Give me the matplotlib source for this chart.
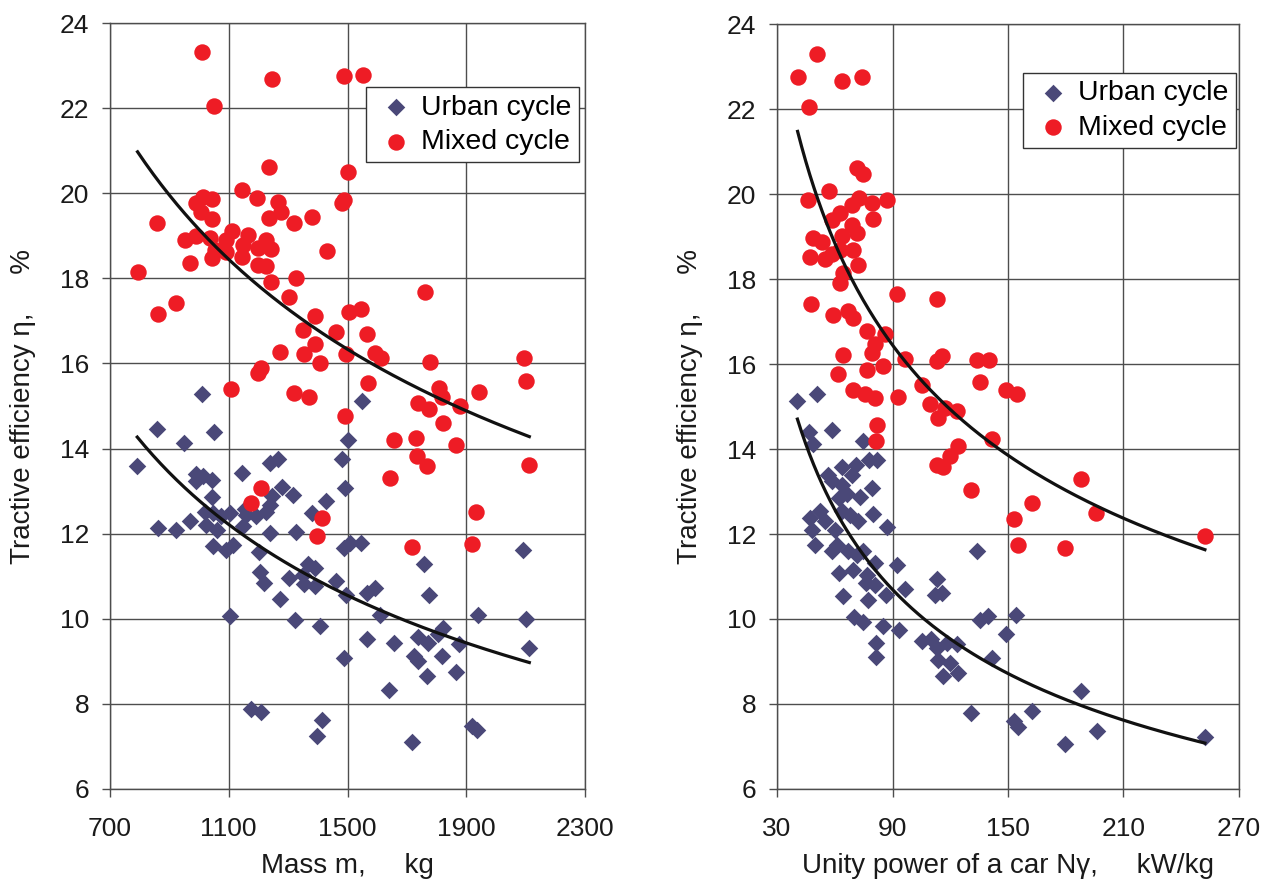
import numpy as np
import matplotlib
matplotlib.use("Agg")
import matplotlib.pyplot as plt

plt.rcParams['font.family'] = ['Liberation Sans', 'DejaVu Sans']

# ---------------- Left panel: mass vs tractive efficiency ----------------
mass_urban = [1010, 1549, 857, 1051, 951, 1503, 792, 1481, 1238, 1266, 991, 1014, 1045, 989,
              1145, 1493, 1279, 1318, 1428, 1042, 1247, 1238, 1381, 1227, 1103, 1075, 1047,
              1159, 1193, 971, 1025, 862, 924, 1059, 1148, 1238, 1325, 1047, 1092, 1115, 1202,
              1489, 1507, 1546, 1757, 2092, 1367, 1392, 1204, 1303, 1218, 1350, 1355, 1392,
              1462, 1495, 1565, 1591, 1774, 1274, 1103, 1608, 1940, 2101, 1322, 1406, 1736,
              1770, 1820, 1803, 1876, 1566, 1656, 2112, 1487, 1725, 1736, 1818, 1767, 1865,
              1641, 1176, 1210, 1415, 1398, 1716, 1919, 1935, 1154, 1019]
eff_urban_m = [15.29, 15.11, 14.47, 14.38, 14.13, 14.19, 13.60, 13.75, 13.66, 13.75, 13.41, 13.35,
               13.27, 13.23, 13.42, 13.07, 13.09, 12.91, 12.77, 12.86, 12.88, 12.68, 12.48, 12.52,
               12.48, 12.41, 12.48, 12.44, 12.41, 12.29, 12.21, 12.13, 12.09, 12.09, 12.17, 12.01,
               12.03, 11.72, 11.62, 11.74, 11.56, 11.66, 11.79, 11.78, 11.29, 11.61, 11.29, 11.19,
               11.11, 10.96, 10.84, 11.04, 10.82, 10.78, 10.88, 10.57, 10.60, 10.72, 10.57, 10.46,
               10.07, 10.10, 10.10, 9.99, 9.96, 9.84, 9.57, 9.43, 9.78, 9.65, 9.41, 9.52, 9.43,
               9.31, 9.08, 9.12, 9.00, 9.13, 8.66, 8.74, 8.33, 7.88, 7.80, 7.61, 7.25, 7.10, 7.47,
               7.39, 12.58, 12.52]

mass_mixed = [1011, 1245, 1488, 1552, 1052, 1236, 1503, 1489, 1481, 1146, 1195, 1266, 1277, 1234,
              1014, 1045, 989, 1008, 1045, 1320, 1381, 857, 952, 991, 1038, 1112, 1164, 1226,
              1092, 1054, 1092, 1148, 1199, 1243, 1042, 1143, 1430, 971, 1199, 1227, 793, 1325,
              1241, 1303, 924, 862, 1760, 1389, 1504, 1546, 1350, 1462, 1566, 1389, 1355, 1406,
              1495, 1274, 1591, 1613, 1776, 2093, 2101, 1210, 1199, 1106, 1320, 1370, 1568, 1809,
              1818, 1941, 1736, 1773, 1879, 1490, 1820, 1658, 1729, 1865, 1733, 1768, 1643, 2112,
              1210, 1176, 1415, 1398, 1932, 1717, 1919]
eff_mixed_m = [23.31, 22.68, 22.76, 22.79, 22.05, 20.62, 20.49, 19.84, 19.78, 20.08, 19.90, 19.80,
               19.57, 19.43, 19.92, 19.86, 19.78, 19.57, 19.39, 19.31, 19.45, 19.31, 18.90, 19.00,
               18.94, 19.12, 19.02, 18.90, 18.90, 18.67, 18.63, 18.79, 18.71, 18.68, 18.47, 18.51,
               18.65, 18.37, 18.31, 18.28, 18.16, 18.02, 17.92, 17.57, 17.43, 17.16, 17.67, 17.12,
               17.20, 17.27, 16.79, 16.75, 16.69, 16.46, 16.22, 16.00, 16.22, 16.28, 16.25, 16.12,
               16.04, 16.12, 15.59, 15.89, 15.77, 15.40, 15.30, 15.22, 15.53, 15.42, 15.22, 15.34,
               15.06, 14.92, 14.99, 14.77, 14.59, 14.19, 14.25, 14.09, 13.83, 13.60, 13.31, 13.62,
               13.07, 12.73, 12.37, 11.95, 12.50, 11.68, 11.75]

# ---------------- Right panel: unity power vs tractive efficiency ----------------
power_urban = [40.6, 50.6, 46.8, 58.4, 48.5, 74.5, 78.0, 81.8, 71.0, 63.6, 56.7, 68.8, 58.4, 79.2,
               63.6, 66.2, 73.1, 62.0, 52.5, 47.3, 48.1, 55.0, 60.2, 63.6, 67.9, 72.3, 80.0, 86.9,
               49.7, 58.4, 61.0, 67.1, 71.4, 74.8, 80.9, 92.2, 69.3, 62.4, 76.6, 76.2, 80.9, 96.5,
               86.6, 64.5, 77.4, 112.9, 112.1, 115.5, 133.7, 70.0, 74.8, 85.2, 93.5, 81.4, 81.4,
               105.2, 109.9, 113.0, 118.1, 123.3, 113.8, 119.9, 124.2, 116.4, 135.5, 139.8, 154.2,
               149.0, 141.5, 187.8, 130.6, 162.3, 153.3, 155.0, 196.1, 179.6, 252.3]
eff_urban_p = [15.12, 15.29, 14.40, 14.45, 14.12, 14.20, 13.75, 13.75, 13.63, 13.57, 13.40, 13.40,
               13.24, 13.08, 13.16, 12.93, 12.86, 12.85, 12.53, 12.38, 12.10, 12.30, 12.10, 12.53,
               12.45, 12.30, 12.47, 12.16, 11.75, 11.61, 11.75, 11.59, 11.51, 11.59, 11.32, 11.26,
               11.16, 11.08, 11.04, 10.85, 10.81, 10.71, 10.56, 10.53, 10.45, 10.95, 10.56, 10.61,
               11.61, 10.04, 9.93, 9.83, 9.75, 9.44, 9.10, 9.49, 9.54, 9.32, 9.44, 9.40, 9.04,
               8.96, 8.73, 8.65, 9.98, 10.06, 10.09, 9.65, 9.08, 8.30, 7.79, 7.84, 7.59, 7.45,
               7.37, 7.06, 7.22]

power_mixed = [50.6, 40.7, 63.6, 74.0, 46.8, 71.4, 74.8, 57.0, 46.3, 72.8, 79.2, 87.0, 68.8, 62.7,
               58.4, 79.7, 68.8, 71.4, 63.6, 48.9, 53.2, 69.7, 62.7, 47.1, 54.9, 58.4, 72.3, 64.5,
               62.7, 92.2, 112.9, 47.5, 59.3, 67.1, 69.3, 76.6, 86.1, 81.0, 79.3, 64.5, 85.2, 76.6,
               61.9, 96.5, 112.9, 115.5, 133.7, 140.3, 135.5, 105.2, 69.7, 75.7, 80.9, 93.0, 148.8,
               154.5, 109.5, 117.3, 123.3, 113.8, 81.8, 81.4, 124.2, 119.9, 113.0, 116.4, 141.5,
               130.6, 187.8, 162.3, 195.7, 153.3, 155.0, 179.6, 252.3]
eff_mixed_p = [23.30, 22.76, 22.67, 22.75, 22.04, 20.61, 20.47, 20.06, 19.87, 19.91, 19.79, 19.87,
               19.75, 19.55, 19.40, 19.41, 19.28, 19.08, 19.01, 18.97, 18.87, 18.69, 18.69, 18.52,
               18.46, 18.58, 18.34, 18.14, 17.91, 17.65, 17.54, 17.42, 17.15, 17.24, 17.09, 16.78,
               16.70, 16.46, 16.27, 16.21, 15.95, 15.87, 15.76, 16.11, 16.07, 16.20, 16.09, 16.09,
               15.58, 15.51, 15.39, 15.29, 15.19, 15.22, 15.39, 15.30, 15.05, 14.97, 14.89, 14.74,
               14.56, 14.18, 14.08, 13.83, 13.62, 13.57, 14.24, 13.04, 13.29, 12.73, 12.49, 12.35,
               11.73, 11.67, 11.95]

left_xticks = [700, 1100, 1500, 1900, 2300]
right_xticks = [30, 90, 150, 210, 270]
yticks = [6, 8, 10, 12, 14, 16, 18, 20, 22, 24]

series_labels = ["Urban cycle", "Mixed cycle"]
ylabel_text = "Tractive efficiency \u03b7,     %"
left_xlabel = "Mass m,     kg"
right_xlabel = "Unity power of a car N\u03b3,     kW/kg"

URBAN_COLOR = "#4a4878"
MIXED_COLOR = "#ee1c25"
GRID_COLOR = "#4d4d4d"
TEXT_COLOR = "#1a1a1a"


def power_fit(x, y):
    b, ln_a = np.polyfit(np.log(x), np.log(y), 1)
    xs = np.linspace(min(x), max(x), 200)
    return xs, np.exp(ln_a) * xs ** b


fig = plt.figure(figsize=(12.74, 8.91), dpi=100)
axL = fig.add_axes([0.0863, 0.1145, 0.3730, 0.8596])
axR = fig.add_axes([0.6099, 0.1145, 0.3626, 0.8585])


def style(ax, xticks, xlabel, legend_anchor):
    ax.set_ylim(6, 24)
    ax.set_yticks(yticks)
    ax.set_xlim(xticks[0], xticks[-1])
    ax.set_xticks(xticks)
    ax.grid(True, color=GRID_COLOR, linewidth=1.0, zorder=0)
    ax.set_axisbelow(True)
    for s in ax.spines.values():
        s.set_color(GRID_COLOR)
        s.set_linewidth(1.0)
    ax.tick_params(direction='out', length=6, width=1.0, color=GRID_COLOR,
                   labelsize=19, labelcolor=TEXT_COLOR)
    ax.tick_params(axis='x', pad=14)
    ax.tick_params(axis='y', pad=9)
    ax.set_xlabel(xlabel, fontsize=20, color=TEXT_COLOR, labelpad=9)
    ax.set_ylabel(ylabel_text, fontsize=20, color=TEXT_COLOR, labelpad=17)
    leg = ax.legend(loc='upper right', bbox_to_anchor=legend_anchor, fontsize=20.5,
                    frameon=True, fancybox=False, edgecolor='#333333', framealpha=1,
                    borderaxespad=0, handletextpad=0.1, labelspacing=0.3,
                    borderpad=0.25, handlelength=1.6)
    leg.get_frame().set_linewidth(1.0)


# Left panel
axL.scatter(mass_urban, eff_urban_m, marker='D', s=80, color=URBAN_COLOR, linewidths=0,
            zorder=3, label=series_labels[0])
axL.scatter(mass_mixed, eff_mixed_m, marker='o', s=140, color=MIXED_COLOR, linewidths=0,
            zorder=3, label=series_labels[1])
for x, y in [(mass_urban, eff_urban_m), (mass_mixed, eff_mixed_m)]:
    xs, ys = power_fit(x, y)
    axL.plot(xs, ys, color='#111111', linewidth=2.3, zorder=4)
style(axL, left_xticks, left_xlabel, (0.987, 0.916))

# Right panel
axR.scatter(power_urban, eff_urban_p, marker='D', s=80, color=URBAN_COLOR, linewidths=0,
            zorder=3, label=series_labels[0])
axR.scatter(power_mixed, eff_mixed_p, marker='o', s=140, color=MIXED_COLOR, linewidths=0,
            zorder=3, label=series_labels[1])
for x, y in [(power_urban, eff_urban_p), (power_mixed, eff_mixed_p)]:
    xs, ys = power_fit(x, y)
    axR.plot(xs, ys, color='#111111', linewidth=2.3, zorder=4)
style(axR, right_xticks, right_xlabel, (0.993, 0.936))

fig.savefig("out.png", dpi=100)
